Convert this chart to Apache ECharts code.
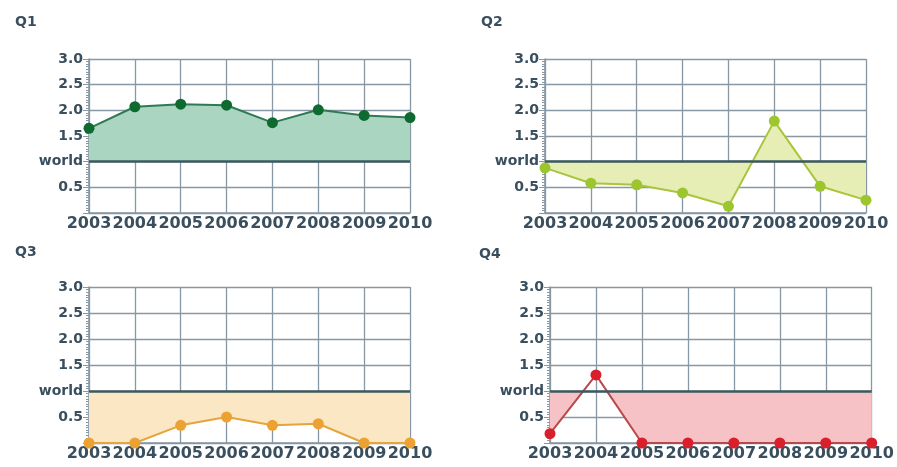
<!DOCTYPE html>
<html><head><meta charset="utf-8">
<script src="https://cdn.jsdelivr.net/npm/echarts@6/dist/echarts.min.js"></script>
<style>html,body{margin:0;padding:0;background:#fff}#c{width:897px;height:467px}</style>
</head><body><div id="c"></div>
<script>
const years = ['2003','2004','2005','2006','2007','2008','2009','2010'];
const q1 = [1.65, 2.07, 2.12, 2.10, 1.76, 2.01, 1.90, 1.86];
const q2 = [0.88, 0.58, 0.55, 0.39, 0.13, 1.79, 0.52, 0.25];
const q3 = [0, 0, 0.34, 0.50, 0.34, 0.37, 0, 0];
const q4 = [0.18, 1.31, 0, 0, 0, 0, 0, 0];
const worldValue = 1.0;
const yTickLabels = {0: '', 0.5: '0.5', 1: 'world', 1.5: '1.5', 2: '2.0', 2.5: '2.5', 3: '3.0'};
const panelTitles = ['Q1', 'Q2', 'Q3', 'Q4'];

const TXT = '#3a4f5e';
const GRIDC = '#8797a4';
const FONT = 'DejaVu Sans';

const panels = [
  {data: q1, grid: {left: 89, top: 59, width: 321, height: 154}, title: [10, 10],
   line: '#2f7a55', mark: '#0f6a30', fill: '#a9d5c1', below: false},
  {data: q2, grid: {left: 545, top: 59, width: 321, height: 154}, title: [476, 10],
   line: '#a9c53c', mark: '#9cc52e', fill: '#e6eeb6', below: false},
  {data: q3, grid: {left: 89, top: 287, width: 321, height: 156}, title: [10, 240],
   line: '#e4a53c', mark: '#eca232', fill: '#fce7c4', below: false},
  {data: q4, grid: {left: 550, top: 287, width: 322, height: 156}, title: [474, 242],
   line: '#b8484a', mark: '#d81f2b', fill: '#f6c2c6', below: true}
];

const option = {
  animation: false,
  backgroundColor: '#fff',
  title: panels.map((p, i) => ({
    text: panelTitles[i], left: p.title[0], top: p.title[1],
    textStyle: {fontFamily: FONT, fontWeight: 'bold', fontSize: 14, color: TXT}
  })),
  grid: panels.map(p => Object.assign({containLabel: false}, p.grid)),
  xAxis: panels.map((p, i) => ({
    type: 'category', gridIndex: i, data: years, boundaryGap: false,
    axisLine: {show: true, lineStyle: {color: GRIDC, width: 1.5}},
    axisTick: {show: false},
    axisLabel: {fontFamily: FONT, fontWeight: 'bold', fontSize: 16, color: TXT, margin: 3, interval: 0},
    splitLine: {show: true, lineStyle: {color: GRIDC, width: 1.3}}
  })),
  yAxis: panels.map((p, i) => ({
    type: 'value', gridIndex: i, min: 0, max: 3, interval: 0.5,
    axisLine: {show: true, lineStyle: {color: GRIDC, width: 1.5}},
    axisTick: {show: true, length: 6, lineStyle: {color: GRIDC}},
    minorTick: {show: true, splitNumber: 10, length: 3, lineStyle: {color: GRIDC}},
    axisLabel: {fontFamily: FONT, fontWeight: 'bold', fontSize: 14, color: TXT, margin: 6,
      formatter: v => (yTickLabels[v] !== undefined ? yTickLabels[v] : '')},
    splitLine: {show: true, lineStyle: {color: GRIDC, width: 1.3}}
  })),
  series: []
};

const belowSeriesIdx = [];
panels.forEach((p, i) => {
  if (p.below) {
    belowSeriesIdx.push([option.series.length, i]);
    option.series.push({
      type: 'line', xAxisIndex: i, yAxisIndex: i, z: 1,
      data: p.data,
      symbol: 'none', lineStyle: {opacity: 0, width: 0},
      areaStyle: {color: p.fill, opacity: 1, origin: worldValue}
    });
  }
  option.series.push({
    type: 'line', xAxisIndex: i, yAxisIndex: i, z: 3,
    data: p.data,
    symbol: 'circle', symbolSize: 11,
    itemStyle: {color: p.mark},
    lineStyle: {color: p.line, width: 2},
    areaStyle: p.below ? undefined : {color: p.fill, opacity: 1, origin: worldValue},
    clip: false,
    markLine: {
      silent: true, symbol: 'none', label: {show: false},
      lineStyle: {color: '#3b5a5e', width: 2.5, type: 'solid'},
      data: [{yAxis: worldValue}]
    }
  });
});

const chart = echarts.init(document.getElementById('c'), null, {renderer: 'canvas'});
chart.setOption(option);

// Fill only the part below the world line: a hard-edged global gradient at the world level.
const seriesUpdate = option.series.map(() => ({}));
belowSeriesIdx.forEach(([si, gi]) => {
  const yPix = chart.convertToPixel({gridIndex: gi}, [0, worldValue])[1];
  seriesUpdate[si] = {
    areaStyle: {
      color: {
        type: 'linear', global: true, x: 0, y: yPix - 0.5, x2: 0, y2: yPix + 0.5,
        colorStops: [
          {offset: 0, color: 'rgba(255,255,255,0)'},
          {offset: 0.5, color: 'rgba(255,255,255,0)'},
          {offset: 0.5, color: panels[gi].fill},
          {offset: 1, color: panels[gi].fill}
        ]
      }
    }
  };
});
chart.setOption({series: seriesUpdate});
</script>
</body></html>
